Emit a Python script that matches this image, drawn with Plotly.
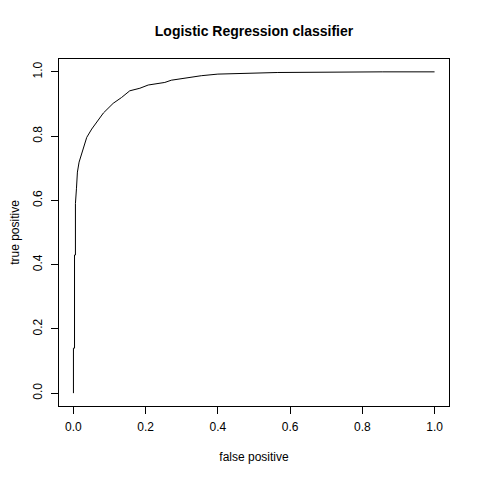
import plotly.graph_objects as go

# ROC curve points
false_positive = [0.0, 0.0, 0.003, 0.003, 0.0055, 0.0055, 0.0083, 0.011, 0.0156, 0.021,
                  0.0276, 0.0368, 0.0506, 0.0616, 0.083, 0.110, 0.133, 0.156, 0.184,
                  0.207, 0.253, 0.271, 0.327, 0.354, 0.40, 0.566, 0.855, 1.0]
true_positive = [0.0, 0.14, 0.14, 0.43, 0.43, 0.59, 0.636, 0.688, 0.719, 0.739,
                 0.765, 0.796, 0.822, 0.838, 0.872, 0.902, 0.920, 0.941, 0.949,
                 0.959, 0.967, 0.974, 0.985, 0.988, 0.993, 0.998, 1.0, 1.0]
tick_vals = [0.0, 0.2, 0.4, 0.6, 0.8, 1.0]
tick_text = ["0.0", "0.2", "0.4", "0.6", "0.8", "1.0"]

fig = go.Figure(
    go.Scatter(
        x=false_positive,
        y=true_positive,
        mode="lines",
        line=dict(color="black", width=1),
        hoverinfo="skip",
    )
)

axis_style = dict(
    range=[-0.04, 1.04],
    tickvals=tick_vals,
    ticktext=tick_text,
    ticks="outside",
    ticklen=7,
    tickwidth=1,
    tickcolor="black",
    showgrid=False,
    zeroline=False,
    showline=True,
    linecolor="black",
    linewidth=1,
    mirror=True,
    automargin=False,
    tickfont=dict(size=12, color="black"),
)

fig.update_xaxes(**axis_style, ticklabelstandoff=3,
                 title=dict(text="false positive", font=dict(size=12), standoff=19))
fig.update_yaxes(**axis_style, tickangle=-90, ticklabelstandoff=4,
                 title=dict(text="true positive", font=dict(size=12), standoff=10))

# page body adds an 8px offset, so margins are shifted to compensate
fig.update_layout(
    width=480,
    height=480,
    title=dict(
        text="<b>Logistic Regression classifier</b>",
        x=(59 + 449 - 16) / 2 / 480,
        xanchor="center",
        y=1 - 23 / 480,
        yanchor="middle",
        font=dict(size=14, color="black"),
    ),
    font=dict(family="Liberation Sans, Arial, sans-serif", color="black"),
    plot_bgcolor="white",
    paper_bgcolor="white",
    showlegend=False,
    margin=dict(l=51, r=39, t=51, b=82),
)

fig.write_html("out.html")
